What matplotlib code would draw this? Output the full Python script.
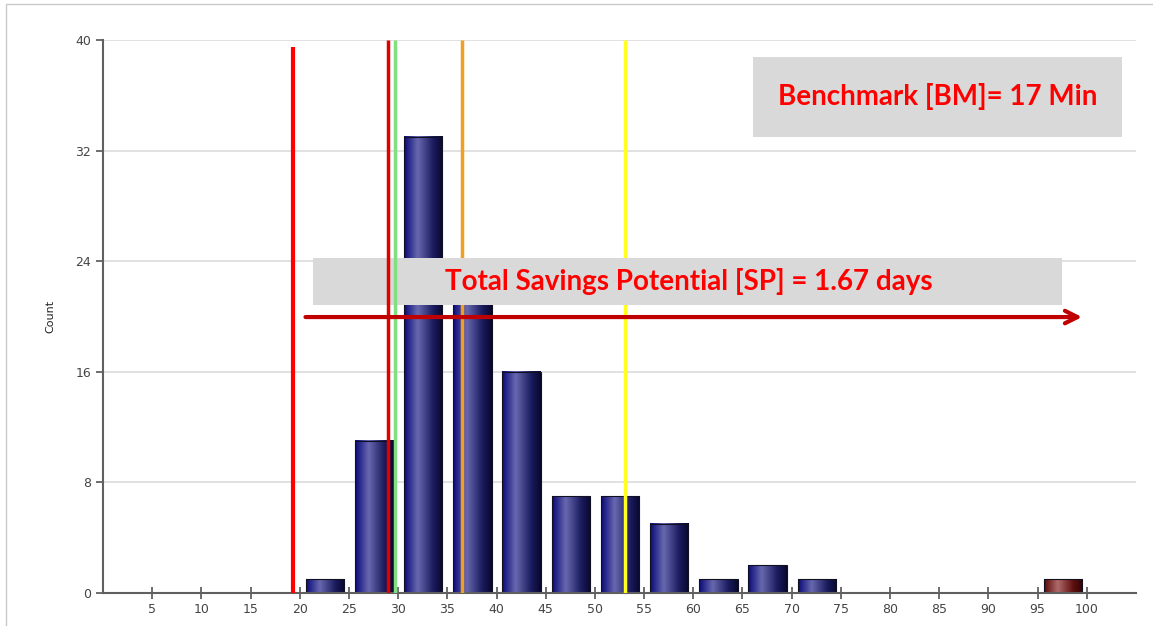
import matplotlib.pyplot as plt
import numpy as np
from matplotlib.colors import LinearSegmentedColormap
from matplotlib.patches import Rectangle

# histogram bins (left edge) and counts
bin_left = [20, 25, 30, 35, 40, 45, 50, 55, 60, 65, 70, 95]
counts = [1, 11, 33, 21, 16, 7, 7, 5, 1, 2, 1, 1]
outlier = [False] * 11 + [True]

# reference lines (minutes)
vlines = [19.3, 29.0, 29.7, 36.5, 53.1]
vline_colors = ["#ff0000", "#e00000", "#80e080", "#f0a020", "#ffff20"]
vline_tops = [39.5, 40, 40, 40, 40]

yticks = [0, 8, 16, 24, 32, 40]
xticks = list(range(5, 105, 5))

bm_text = "Benchmark [BM]= 17 Min"
sp_text = "Total Savings Potential [SP] = 1.67 days"

blue_cm = LinearSegmentedColormap.from_list(
    "cyl_blue", [(0, "#0a0a78"), (0.35, "#6868b0"), (0.75, "#1c1c60"), (1, "#08082e")])
red_cm = LinearSegmentedColormap.from_list(
    "cyl_red", [(0, "#5a0808"), (0.35, "#b06a6a"), (0.75, "#601010"), (1, "#300404")])

fig = plt.figure(figsize=(11.53, 6.26), dpi=100)
# light frame around the picture
fig.patches.append(Rectangle((6 / 1153, -0.1), 1.2, 1 - 4 / 626 + 0.1, transform=fig.transFigure,
                             fill=False, edgecolor="#c8c8c8", lw=1))
ax = fig.add_axes([103 / 1153, 1 - 593 / 626, 1033 / 1153, 553 / 626])
ax.set_xlim(0, 105)
ax.set_ylim(0, 40)

grad = np.linspace(0, 1, 64).reshape(1, -1)
for left, c, red in zip(bin_left, counts, outlier):
    x0, x1 = left + 0.6, left + 4.5
    ax.imshow(grad, cmap=red_cm if red else blue_cm, aspect="auto",
              extent=(x0, x1, 0, c), zorder=2, interpolation="bicubic")
    ax.add_patch(Rectangle((x0, 0), x1 - x0, c, fill=False, edgecolor="#101020", lw=0.8, zorder=2.1))

# restore limits after imshow
ax.set_xlim(0, 105)
ax.set_ylim(0, 40)

for x, col, top in zip(vlines, vline_colors, vline_tops):
    z = 6 if col in ("#e00000", "#80e080") else 3
    ax.plot([x, x], [0, top], color=col, lw=3 if x < 20 else 2.5, zorder=z, solid_capstyle="butt")

# annotation boxes
ax.add_patch(Rectangle((66.1, 32.98), 37.5, 5.79, facecolor="#d9d9d9", edgecolor="none", zorder=5))
ax.text(84.8, 35.9, bm_text, color="#ff0000", fontsize=20, fontweight="bold", family="Lato",
        ha="center", va="center", zorder=6)
ax.add_patch(Rectangle((21.35, 20.83), 76.15, 3.4, facecolor="#d9d9d9", edgecolor="none", zorder=5))
ax.text(59.5, 22.55, sp_text, color="#ff0000", fontsize=20, fontweight="bold", family="Lato",
        ha="center", va="center", zorder=6)
ax.annotate("", xy=(99.8, 19.96), xytext=(20.3, 19.96),
            arrowprops=dict(arrowstyle="->,head_length=0.9,head_width=0.45", color="#c00000", lw=3),
            zorder=7)

ax.set_yticks(yticks)
ax.set_xticks(xticks)
ax.set_xticklabels([str(t) for t in xticks])
ax.tick_params(axis="both", labelsize=9, labelcolor="#444444", color="#555555", width=1.2, length=5)
ax.tick_params(axis="x", direction="inout", length=8)
ax.grid(axis="y", color="#dcdcdc", lw=1.2, zorder=0)
ax.set_axisbelow(True)
for s in ["top", "right"]:
    ax.spines[s].set_visible(False)
for s in ["left", "bottom"]:
    ax.spines[s].set_color("#606060")
    ax.spines[s].set_linewidth(1.5)
ax.set_ylabel("Count", fontsize=8, color="#222222", labelpad=14)

plt.savefig("out.png", dpi=100)
